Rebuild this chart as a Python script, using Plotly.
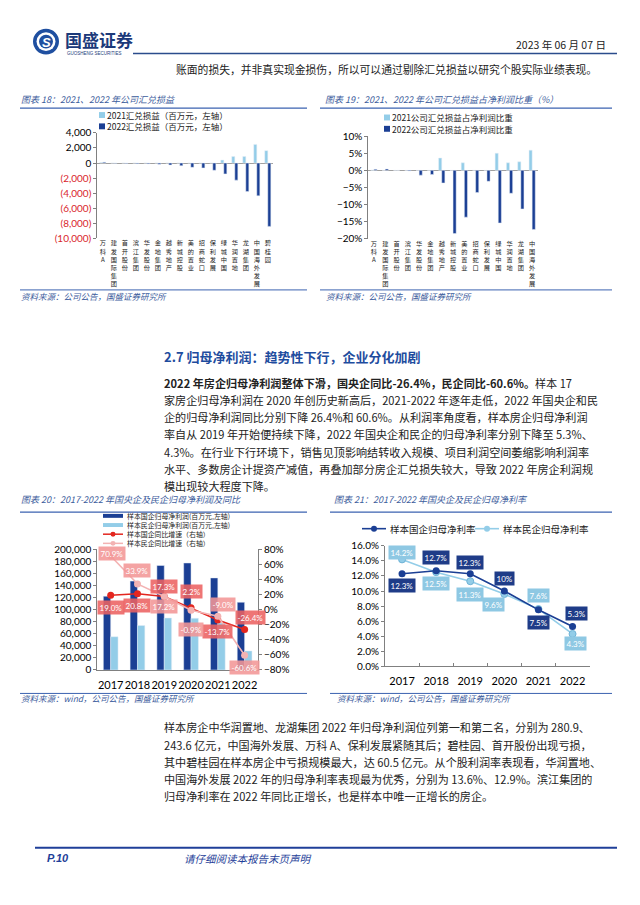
import plotly.graph_objects as go

PAGE_W, PAGE_H = 640, 905
PAD = 8  # default body margin of the html page
W, H = PAGE_W - 2 * PAD, PAGE_H - 2 * PAD


def X(p):
    return (p - PAD) / W


def Y(p):
    return 1 - (p - PAD) / H


# ---------------- data ----------------
fx_companies = ["万科A", "建发国际集团", "首开股份", "滨江集团", "华发股份", "金地集团", "越秀地产", "新城控股",
                "美的置业", "招商蛇口", "保利发展", "绿城中国", "华润置地", "龙湖集团", "中国海外发展", "碧桂园"]
fx_2021 = [60, 0, 0, 0, 0, 0, 0, 0, 0, 0, 0, 390, 870, 870, 2480, 1650]
fx_2022 = [120, -40, -60, -80, -100, -150, -260, -350, -570, -650, -960, -1440, -2270, -3790, -4360, -8420]

ratio_companies = ["万科A", "建发国际集团", "首开股份", "滨江集团", "华发股份", "金地集团", "越秀地产", "新城控股",
                   "美的置业", "招商蛇口", "保利发展", "绿城中国", "华润置地", "龙湖集团", "中国海外发展"]
ratio_2021 = [0.1, 0.0, 0.0, 0.0, 0.0, 0.0, 3.6, 0.0, 2.2, 0.0, 0.0, 5.0, 2.2, 2.5, 5.9]
ratio_2022 = [0.3, 0.4, 0.0, -0.2, -1.4, -1.2, -3.7, -18.5, -13.7, -6.5, -3.2, -15.4, -6.7, -11.3, -17.3]

years = ["2017", "2018", "2019", "2020", "2021", "2022"]
soe_profit = [122000, 147000, 172800, 177000, 152300, 112000]
pe_profit = [55000, 73500, 86000, 85500, 77800, 31500]
soe_yoy = [19.0, 20.8, 17.3, 2.2, -13.7, -26.4]
pe_yoy = [70.9, 33.9, 17.2, -0.9, -9.0, -60.6]

soe_margin = [12.3, 12.7, 12.3, 10.0, 7.5, 5.3]
pe_margin = [14.2, 12.5, 11.3, 9.6, 7.6, 4.3]

# ---------------- style ----------------
NAVY = "#1B3F94"
SKY = "#93CDE8"
RED = "#E3261F"
PINK = "#F3B3B3"
BLUE_TXT = "#3C5C9C"
RULE = "#3B62B0"
CJK = "Noto Sans CJK SC"
NUM = "Lato, Noto Sans CJK SC"
AX = "#808080"


def vert(s):
    return "<br>".join(list(s))


fig = go.Figure()

# chart 18
fig.add_bar(x=fx_companies, y=fx_2021, marker_color=SKY, xaxis="x", yaxis="y")
fig.add_bar(x=fx_companies, y=fx_2022, marker_color=NAVY, xaxis="x", yaxis="y")
# chart 19
fig.add_bar(x=ratio_companies, y=ratio_2021, marker_color=SKY, xaxis="x2", yaxis="y2")
fig.add_bar(x=ratio_companies, y=ratio_2022, marker_color=NAVY, xaxis="x2", yaxis="y2")
# chart 20
fig.add_bar(x=years, y=soe_profit, marker_color=NAVY, xaxis="x3", yaxis="y3")
fig.add_bar(x=years, y=pe_profit, marker_color=SKY, xaxis="x3", yaxis="y3")
fig.add_scatter(x=years, y=soe_yoy, mode="lines+markers", line=dict(color=RED, width=1.6),
                marker=dict(size=7, color=RED), xaxis="x3", yaxis="y4")
fig.add_scatter(x=years, y=pe_yoy, mode="lines+markers", line=dict(color=PINK, width=1.6),
                marker=dict(size=7, color=PINK), xaxis="x3", yaxis="y4")
# chart 21
fig.add_scatter(x=years, y=pe_margin, mode="lines+markers", line=dict(color=SKY, width=1.6),
                marker=dict(size=7, color=SKY, line=dict(color="#6FB3D6", width=1)), xaxis="x4", yaxis="y5")
fig.add_scatter(x=years, y=soe_margin, mode="lines+markers", line=dict(color=NAVY, width=1.6),
                marker=dict(size=7, color=NAVY), xaxis="x4", yaxis="y5")

# tick text for chart 18 (negatives red, in parentheses)
fx_ticks = list(range(-10000, 4001, 2000))
fx_ticktext = [f"{v:,}" if v >= 0 else f'<span style="color:#D9262C">({-v:,})</span>' for v in fx_ticks]

yfont = dict(family=NUM, size=10, color="#000")
common_y = dict(showgrid=False, showline=True, linecolor=AX, linewidth=1, ticks="outside", ticklen=3,
                tickcolor=AX, tickfont=yfont, fixedrange=True)
cat_font = dict(family=CJK, size=6.2, color="#222")

fig.update_layout(
    width=W, height=H, autosize=False,
    margin=dict(l=0, r=0, t=0, b=0),
    paper_bgcolor="white", plot_bgcolor="rgba(0,0,0,0)",
    showlegend=False, barmode="group", bargap=0.45, bargroupgap=0,
    font=dict(family=CJK, color="#222"),
    xaxis=dict(domain=[X(97.3), X(273.3)], anchor="y", type="category", range=[-0.5, len(fx_companies) - 0.5],
               tickvals=fx_companies, ticktext=[vert(c) for c in fx_companies], tickangle=0,
               tickfont=cat_font, showline=False, ticks="",
               showgrid=False, ticklabelstandoff=0, fixedrange=True),
    yaxis=dict(domain=[Y(234.6), Y(127.7)], anchor="x", range=[-10000, 4000],
               tickvals=fx_ticks, ticktext=fx_ticktext, zeroline=True, zerolinecolor="#A0A0A0",
               zerolinewidth=1, **common_y),
    xaxis2=dict(domain=[X(368.3), X(537.8)], anchor="y2", type="category",
                range=[-0.5, len(ratio_companies) - 0.5], tickangle=0,
                tickvals=ratio_companies, ticktext=[vert(c) for c in ratio_companies],
                tickfont=cat_font, showline=False, ticks="",
                showgrid=False, ticklabelstandoff=0, fixedrange=True),
    yaxis2=dict(domain=[Y(235), Y(131)], anchor="x2", range=[-20, 10], dtick=5, ticksuffix="%",
                zeroline=True, zerolinecolor="#A0A0A0", zerolinewidth=1, **common_y),
    xaxis3=dict(domain=[X(97.3), X(258)], anchor="y3", type="category", range=[-0.5, len(years) - 0.5],
                showline=True, linecolor=AX, tickangle=0,
                ticks="", showgrid=False, tickfont=dict(family=NUM, size=11, color="#000"),
                ticklabelstandoff=5, fixedrange=True),
    yaxis3=dict(domain=[Y(672.7), Y(550)], anchor="x3", range=[0, 200000], dtick=20000,
                tickformat=",", zeroline=False, **common_y),
    yaxis4=dict(overlaying="y3", side="right", anchor="x3", range=[-80, 80], dtick=20,
                ticksuffix="%", zeroline=False, **common_y),
    xaxis4=dict(domain=[X(385), X(589.6)], anchor="y5", type="category", range=[-0.5, len(years) - 0.5],
                showline=True, linecolor=AX, tickangle=0,
                ticks="inside", tickson="boundaries", ticklen=3, tickcolor=AX, showgrid=False,
                tickfont=dict(family=NUM, size=11, color="#000"), ticklabelstandoff=4, fixedrange=True),
    yaxis5=dict(domain=[Y(669), Y(546.7)], anchor="x4", range=[0, 16], dtick=2, tickformat=".1f",
                ticksuffix="%", zeroline=False, **common_y),
)

shapes = []
ann = []


def line(x0, x1, y, color=RULE, width=1.2):
    shapes.append(dict(type="line", xref="paper", yref="paper", x0=X(x0), x1=X(x1), y0=Y(y), y1=Y(y),
                       line=dict(color=color, width=width)))


def rect(x0, x1, y0, y1, color):
    shapes.append(dict(type="rect", xref="paper", yref="paper", x0=X(x0), x1=X(x1), y0=Y(y1), y1=Y(y0),
                       fillcolor=color, line=dict(width=0)))


def circle(cx, cy, r, color, lw=0, lc=None):
    shapes.append(dict(type="circle", xref="paper", yref="paper", x0=X(cx - r), x1=X(cx + r),
                       y0=Y(cy + r), y1=Y(cy - r), fillcolor=color,
                       line=dict(width=lw, color=lc or color)))


def text(x, y, s, size=11, color="#222", anchor="left", family=CJK, **kw):
    ann.append(dict(x=X(x), y=Y(y), xref="paper", yref="paper", text=s, showarrow=False, borderpad=0,
                    xanchor=anchor, yanchor="middle", font=dict(size=size, color=color, family=family), **kw))


# ---- header ----
circle(46, 35, 13, "#1F4FA0")
circle(46, 35, 9.5, "white")
circle(46, 35, 7, "#1F4FA0")
text(46, 35.5, "<b><i>S</i></b>", size=13, color="white", anchor="center", family="Liberation Sans")
text(64, 33, "<b>国盛证券</b>", size=17, color="#1C3A7A")
text(66, 47.5, "GUOSHENG SECURITIES", size=4.5, color="#1C3A7A", family="Liberation Sans")
text(607, 38, "2023 年 06 月 07 日", size=10.5, color="#222", anchor="right")
line(133, 617, 47, color="#2B4C8C", width=1.5)
text(175, 63, "账面的损失，并非真实现金损伤，所以可以通过剔除汇兑损益以研究个股实际业绩表现。", size=10.8)

# ---- chart 18 frame ----
text(20, 94, "<i>图表 18：2021、2022 年公司汇兑损益</i>", size=9, color=BLUE_TXT)
line(20, 307, 102.5)
rect(99, 105, 106.5, 112.5, SKY)
text(106, 109.5, "2021汇兑损益（百万元，左轴）", size=8.5)
rect(99, 105, 118, 124, NAVY)
text(106, 121, "2022汇兑损益（百万元，左轴）", size=8.5)
line(20, 307, 287, width=1)
text(20, 293, "<i>资料来源：公司公告，国盛证券研究所</i>", size=8.5, color=BLUE_TXT)

# ---- chart 19 frame ----
text(324, 94, "<i>图表 19：2021、2022 年公司汇兑损益占净利润比重（%）</i>", size=9, color=BLUE_TXT)
line(320, 612, 102.5)
rect(384, 390, 109, 115, SKY)
text(391, 112, "2021公司汇兑损益占净利润比重", size=8.5)
rect(384, 390, 120.5, 126.5, NAVY)
text(391, 123.5, "2022公司汇兑损益占净利润比重", size=8.5)
line(320, 612, 287, width=1)
text(325, 293, "<i>资料来源：公司公告，国盛证券研究所</i>", size=8.5, color=BLUE_TXT)

# ---- section text ----
text(163, 355, "<b>2.7 归母净利润：趋势性下行，企业分化加剧</b>", size=13, color="#1E4C9E")
para1 = [
    "<b>2022 年房企归母净利润整体下滑，国央企同比-26.4%，民企同比-60.6%。</b>样本 17",
    "家房企归母净利润在 2020 年创历史新高后，2021-2022 年逐年走低，2022 年国央企和民",
    "企的归母净利润同比分别下降 26.4%和 60.6%。从利润率角度看，样本房企归母净利润",
    "率自从 2019 年开始便持续下降，2022 年国央企和民企的归母净利率分别下降至 5.3%、",
    "4.3%。在行业下行环境下，销售见顶影响结转收入规模、项目利润空间萎缩影响利润率",
    "水平、多数房企计提资产减值，再叠加部分房企汇兑损失较大，导致 2022 年房企利润规",
    "模出现较大程度下降。",
]
for i, s in enumerate(para1):
    text(163, 381 + i * 17.5, s, size=11.1)

# ---- chart 20 frame ----
text(20, 500, "<i>图表 20：2017-2022 年国央企及民企归母净利润及同比</i>", size=9, color=BLUE_TXT)
line(20, 307, 512.5)
legend20_rows = [516.3, 525.6, 534.9, 544.2]
rect(103, 123, legend20_rows[0] - 2, legend20_rows[0] + 2, NAVY)
text(126, legend20_rows[0], "样本国企归母净利润(百万元,左轴)", size=6.9)
rect(103, 123, legend20_rows[1] - 2, legend20_rows[1] + 2, SKY)
text(126, legend20_rows[1], "样本民企归母净利润(百万元,左轴)", size=6.9)
line(103, 123, legend20_rows[2], color=RED, width=1.5)
circle(113, legend20_rows[2], 2.5, RED)
text(126, legend20_rows[2], "样本国企同比增速（右轴）", size=6.9)
line(103, 123, legend20_rows[3], color=PINK, width=1.5)
circle(113, legend20_rows[3], 2.5, PINK)
text(126, legend20_rows[3], "样本民企同比增速（右轴）", size=6.9)
line(20, 307, 696.5, width=1)
text(20, 701.5, "<i>资料来源：wind，公司公告，国盛证券研究所</i>", size=8.5, color=BLUE_TXT)

# ---- chart 21 frame ----
text(333, 500, "<i>图表 21：2017-2022 年国央企及民企归母净利率</i>", size=9, color=BLUE_TXT)
line(330, 612, 512.5)
line(362, 386, 529.3, color=NAVY, width=1.6)
circle(374, 529.3, 3, NAVY)
text(389, 529.3, "样本国企归母净利率", size=9.5)
line(475, 499, 529.3, color=SKY, width=1.6)
circle(487, 529.3, 3, SKY)
text(502, 529.3, "样本民企归母净利率", size=9.5)
line(330, 612, 696.5, width=1)
text(336, 701.5, "<i>资料来源：wind，公司公告，国盛证券研究所</i>", size=8.5, color=BLUE_TXT)

# ---- bottom paragraph ----
para2 = [
    "样本房企中华润置地、龙湖集团 2022 年归母净利润位列第一和第二名，分别为 280.9、",
    "243.6 亿元，中国海外发展、万科 A、保利发展紧随其后；碧桂园、首开股份出现亏损，",
    "其中碧桂园在样本房企中亏损规模最大，达 60.5 亿元。从个股利润率表现看，华润置地、",
    "中国海外发展 2022 年的归母净利率表现最为优秀，分别为 13.6%、12.9%。滨江集团的",
    "归母净利率在 2022 年同比正增长，也是样本中唯一正增长的房企。",
]
for i, s in enumerate(para2):
    text(163, 731 + i * 17.5, s, size=11.1)

# ---- footer ----
line(35, 617, 853, color="#1F3F99", width=2)
text(46, 864, "<b><i>P.10</i></b>", size=11, color="#1F3F99", family="Liberation Sans")
text(183, 864, "<i>请仔细阅读本报告末页声明</i>", size=10.5, color="#1F3F99")

# ---- data labels ----
soe_yoy_shift = [(0, -12), (0, -12), (0, 10), (0, 16), (0, -12), (6, 12)]
pe_yoy_shift = [(1, 2), (0, 13), (0, -10), (0, -19), (5, 12), (0, -12)]
for i, v in enumerate(soe_yoy):
    dx, dy = soe_yoy_shift[i]
    ann.append(dict(x=i, y=v, xref="x3", yref="y4", text=f"{v:.1f}%", showarrow=False,
                    xshift=dx, yshift=dy, bgcolor="rgba(236,98,98,0.88)", borderpad=1.5,
                    font=dict(size=8, color="white", family=NUM)))
for i, v in enumerate(pe_yoy):
    dx, dy = pe_yoy_shift[i]
    ann.append(dict(x=i, y=v, xref="x3", yref="y4", text=f"{v:.1f}%", showarrow=False,
                    xshift=dx, yshift=dy, bgcolor="rgba(243,150,150,0.88)", borderpad=1.5,
                    font=dict(size=8, color="white", family=NUM)))

soe_m_shift = [(0, -12), (0, 13), (0, 11), (0, 12.5), (0, -13), (4, 12.5)]
pe_m_shift = [(0, 7), (0, -11.5), (0, -13), (-11, -10), (0, 14), (3, -10)]
for i, v in enumerate(soe_margin):
    dx, dy = soe_m_shift[i]
    ann.append(dict(x=i, y=v, xref="x4", yref="y5", text=f"{v:g}%", showarrow=False,
                    xshift=dx, yshift=dy, bgcolor="#1F3C88", borderpad=1.5,
                    font=dict(size=8, color="white", family=NUM)))
for i, v in enumerate(pe_margin):
    dx, dy = pe_m_shift[i]
    ann.append(dict(x=i, y=v, xref="x4", yref="y5", text=f"{v:g}%", showarrow=False,
                    xshift=dx, yshift=dy, bgcolor="#8EC8E3", borderpad=1.5,
                    font=dict(size=8, color="white", family=NUM)))

fig.update_layout(shapes=shapes, annotations=ann)
fig.write_html("out.html", config={"displayModeBar": False})
